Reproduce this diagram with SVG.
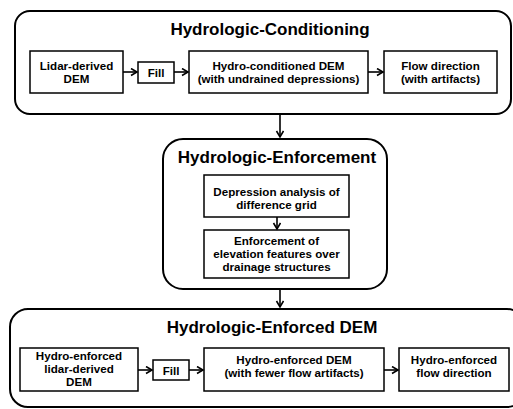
<svg xmlns="http://www.w3.org/2000/svg" width="513" height="409" viewBox="0 0 513 409">
<defs>
<marker id="ah" markerWidth="10" markerHeight="10" refX="7" refY="4" orient="auto" markerUnits="userSpaceOnUse">
<path d="M1,0.5 L7,4 L1,7.5" fill="none" stroke="#000" stroke-width="1.6"/>
</marker>
<style>
.cont{fill:#fff;stroke:#000;stroke-width:2}
.box{fill:#fff;stroke:#000;stroke-width:1.5}
.t{font-family:"Liberation Sans",Arial,sans-serif;font-weight:bold;font-size:11.6px;text-anchor:middle;fill:#000}
.h{font-family:"Liberation Sans",Arial,sans-serif;font-weight:bold;font-size:17px;text-anchor:middle;fill:#000}
.c{fill:none;stroke:#000;stroke-width:1.6;marker-end:url(#ah)}
</style>
</defs>
<g id="conditioning">
<rect class="cont" x="15" y="11" width="496" height="103" rx="15"/>
<text class="h" x="270" y="35">Hydrologic-Conditioning</text>
</g>
<g id="enforcement">
<rect class="cont" x="163" y="139" width="224" height="150" rx="20"/>
<text class="h" x="277" y="163">Hydrologic-Enforcement</text>
</g>
<g id="enforced">
<rect class="cont" x="10" y="309" width="515" height="98" rx="18"/>
<text class="h" x="272" y="333">Hydrologic-Enforced DEM</text>
</g>
<g id="lidar-dem">
<rect class="box" x="30" y="51" width="93" height="42"/>
<text class="t" x="76.5" y="70">Lidar-derived</text>
<text class="t" x="76.5" y="83">DEM</text>
</g>
<g id="fill1">
<rect class="box" x="138" y="62" width="36" height="21"/>
<text class="t" x="156" y="77">Fill</text>
</g>
<g id="hydro-conditioned">
<rect class="box" x="189" y="51" width="179" height="42"/>
<text class="t" x="278.5" y="70">Hydro-conditioned DEM</text>
<text class="t" x="278.5" y="83">(with undrained depressions)</text>
</g>
<g id="flow-dir1">
<rect class="box" x="384" y="51" width="113" height="42"/>
<text class="t" x="440.5" y="70">Flow direction</text>
<text class="t" x="440.5" y="83">(with artifacts)</text>
</g>
<g id="depression">
<rect class="box" x="204" y="175" width="145" height="42"/>
<text class="t" x="276.5" y="196">Depression analysis of</text>
<text class="t" x="276.5" y="209">difference grid</text>
</g>
<g id="enforce-features">
<rect class="box" x="204" y="230" width="145" height="48"/>
<text class="t" x="276.5" y="244.5">Enforcement of</text>
<text class="t" x="276.5" y="257.5">elevation features over</text>
<text class="t" x="276.5" y="270.5">drainage structures</text>
</g>
<g id="hydro-lidar">
<rect class="box" x="20" y="348" width="118" height="43"/>
<text class="t" x="79" y="359.5">Hydro-enforced</text>
<text class="t" x="79" y="372.5">lidar-derived</text>
<text class="t" x="79" y="385.5">DEM</text>
</g>
<g id="fill2">
<rect class="box" x="153" y="360" width="36" height="20"/>
<text class="t" x="171" y="375">Fill</text>
</g>
<g id="hydro-enforced-dem">
<rect class="box" x="204" y="348" width="180" height="43"/>
<text class="t" x="294" y="363.5">Hydro-enforced DEM</text>
<text class="t" x="294" y="376.5">(with fewer flow artifacts)</text>
</g>
<g id="flow-dir2">
<rect class="box" x="399" y="348" width="110" height="43"/>
<text class="t" x="454" y="363.5">Hydro-enforced</text>
<text class="t" x="454" y="376.5">flow direction</text>
</g>
<g id="connectors">
<line class="c" x1="123" y1="72" x2="137" y2="72"/>
<line class="c" x1="174" y1="72" x2="188" y2="72"/>
<line class="c" x1="368" y1="72" x2="383" y2="72"/>
<line class="c" x1="280" y1="114" x2="280" y2="137"/>
<line class="c" x1="277" y1="217" x2="277" y2="229"/>
<line class="c" x1="280" y1="289" x2="280" y2="307"/>
<line class="c" x1="138" y1="370" x2="152" y2="370"/>
<line class="c" x1="189" y1="370" x2="203" y2="370"/>
<line class="c" x1="384" y1="370" x2="398" y2="370"/>
</g>
</svg>
